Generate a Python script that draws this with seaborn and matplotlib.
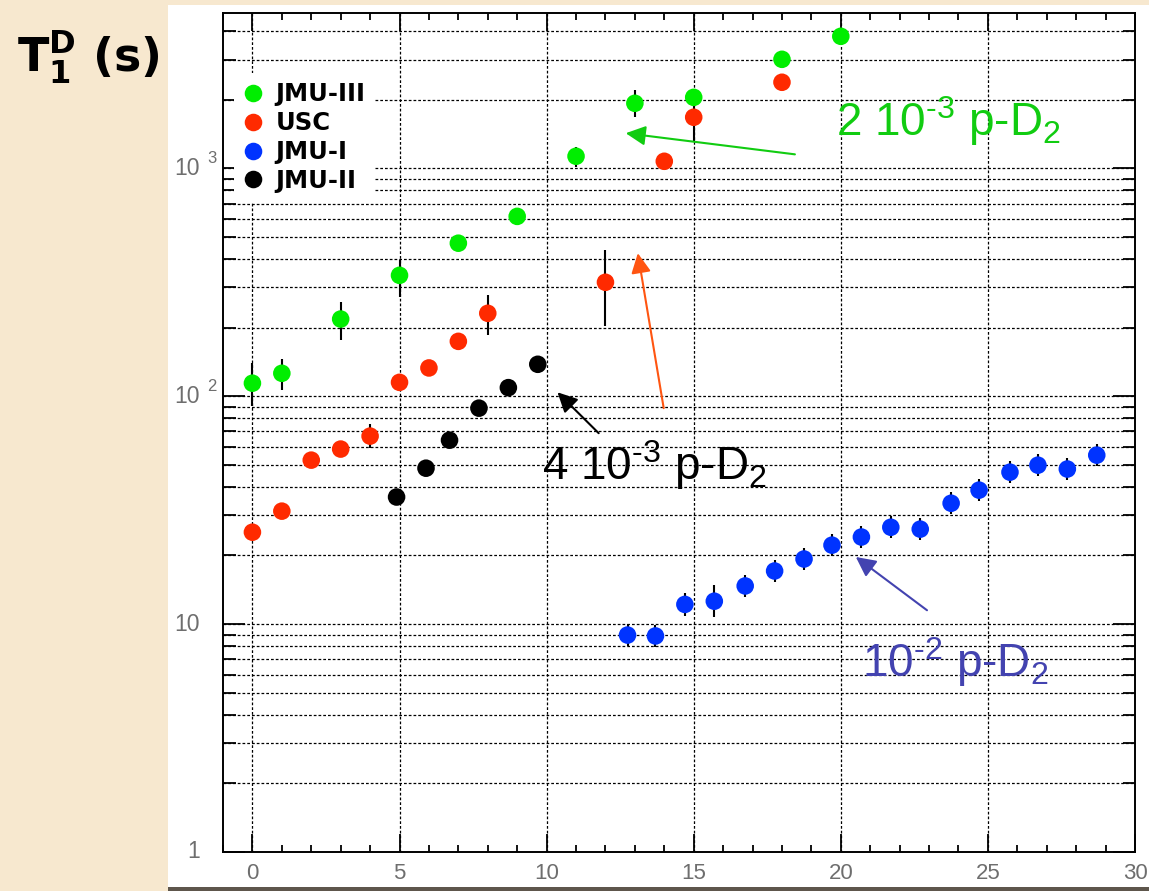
import numpy as np
import pandas as pd
import matplotlib
matplotlib.use("Agg")
import matplotlib.pyplot as plt
import seaborn as sns
from matplotlib.patches import Rectangle
from matplotlib.ticker import FixedLocator, MultipleLocator, LogLocator, NullFormatter

# ---------------- data ----------------
series_names = ["JMU-III", "USC", "JMU-I", "JMU-II"]
series_colors = ["#00ee00", "#ff2a00", "#0033ff", "#000000"]

jmu3_x = [0, 1, 3, 5, 7, 9, 11, 13, 15, 18, 20]
jmu3_y = [114, 126, 218, 339, 469, 615, 1129, 1928, 2047, 3006, 3793]
jmu3_lo = [91, 106, 176, 272, 437, 577, 1009, 1675, 2047, 3006, 3793]
jmu3_hi = [140, 145, 258, 395, 503, 655, 1236, 2198, 2047, 3006, 3793]

usc_x = [0, 1, 2, 3, 4, 5, 6, 7, 8, 12, 14, 15, 18]
usc_y = [25.3, 31.3, 52.4, 58.6, 66.8, 115, 133, 174, 231, 316, 1073, 1674, 2384]
usc_lo = [25.3, 31.3, 52.4, 58.6, 59.2, 115, 133, 174, 185, 203, 1073, 1300, 2384]
usc_hi = [25.3, 31.3, 52.4, 58.6, 75.4, 115, 133, 174, 277, 437, 1073, 2047, 2384]

jmu1_x = [12.75, 13.7, 14.7, 15.7, 16.75, 17.75, 18.75, 19.7, 20.7, 21.7,
          22.7, 23.75, 24.7, 25.75, 26.7, 27.7, 28.7]
jmu1_y = [8.95, 8.87, 12.2, 12.6, 14.7, 17.1, 19.3, 22.2, 24.1, 26.6,
          26.1, 33.9, 38.7, 46.4, 49.8, 47.9, 55.1]
jmu1_lo = [8.0, 7.9, 10.8, 10.7, 13.1, 15.3, 17.3, 19.9, 21.6, 23.8,
           23.3, 30.3, 34.6, 41.5, 44.5, 42.8, 49.3]
jmu1_hi = [10.0, 9.9, 13.7, 14.8, 16.5, 19.1, 21.6, 24.8, 26.9, 29.7,
           29.2, 37.9, 43.3, 51.9, 55.7, 53.6, 61.6]

jmu2_x = [4.9, 5.9, 6.7, 7.7, 8.7, 9.7]
jmu2_y = [36.1, 48.3, 64.1, 88.6, 109, 138]
jmu2_lo = [36.1, 48.3, 59.1, 88.6, 109, 138]
jmu2_hi = [36.1, 48.3, 69.5, 88.6, 109, 138]

xtick_vals = [0, 5, 10, 15, 20, 25, 30]
ytick_vals = [1, 10, 100, 1000]
ytick_base = ["1", "10", "10", "10"]
ytick_exp = ["", "", "2", "3"]

# annotation texts
label_green = r"2 10$^{\text{-}3}$ p-D$_{2}$"
label_black = r"4 10$^{\text{-}3}$ p-D$_{2}$"
label_blue = r"10$^{\text{-}2}$ p-D$_{2}$"

# ---------------- build frame ----------------
frames = []
for name, xs, ys, lo, hi in [("JMU-III", jmu3_x, jmu3_y, jmu3_lo, jmu3_hi),
                             ("USC", usc_x, usc_y, usc_lo, usc_hi),
                             ("JMU-I", jmu1_x, jmu1_y, jmu1_lo, jmu1_hi),
                             ("JMU-II", jmu2_x, jmu2_y, jmu2_lo, jmu2_hi)]:
    frames.append(pd.DataFrame({"x": xs, "y": ys, "lo": lo, "hi": hi, "series": name}))
df = pd.concat(frames, ignore_index=True)

# ---------------- style ----------------
plt.rcParams["font.family"] = ["Liberation Sans", "DejaVu Sans"]
plt.rcParams["mathtext.fontset"] = "custom"
plt.rcParams["mathtext.rm"] = "Liberation Sans"
plt.rcParams["mathtext.it"] = "Liberation Sans:italic"
plt.rcParams["mathtext.bf"] = "DejaVu Sans:bold"

W, H = 1149, 891
fig = plt.figure(figsize=(W / 100, H / 100), dpi=100)
fig.patch.set_facecolor("#f7e8cf")

# white panel + bottom shadow
fig.add_artist(Rectangle((168 / W, 4 / H), (W - 168) / W, (H - 9) / H,
                         transform=fig.transFigure, facecolor="white",
                         edgecolor="none", zorder=-2))
fig.add_artist(Rectangle((168 / W, 0), (W - 168) / W, 4 / H,
                         transform=fig.transFigure, facecolor="#5e564c",
                         edgecolor="none", zorder=-2))

ax = fig.add_axes([223 / W, 1 - 852 / H, (1135 - 223) / W, (852 - 13) / H])
ax.set_facecolor("white")

# error bars (below markers)
ax.errorbar(df["x"], df["y"], yerr=[df["y"] - df["lo"], df["hi"] - df["y"]],
            fmt="none", ecolor="black", elinewidth=1.5, capsize=0, zorder=2)

sns.scatterplot(data=df, x="x", y="y", hue="series", hue_order=series_names,
                palette=series_colors, s=160, edgecolor="none", linewidth=0,
                ax=ax, zorder=3, legend=True)

ax.set_yscale("log")
ax.set_xlim(-1, 30)
ax.set_ylim(1, 4800)
ax.set_xlabel("")
ax.set_ylabel("")

ax.xaxis.set_major_locator(FixedLocator(xtick_vals))
ax.xaxis.set_minor_locator(MultipleLocator(1))
ax.yaxis.set_major_locator(FixedLocator(ytick_vals))
ax.yaxis.set_minor_locator(LogLocator(base=10, subs=np.arange(2, 10)))
ax.yaxis.set_minor_formatter(NullFormatter())

gl = dict(color="black", linewidth=0.9, linestyle=(0, (2.2, 1.6)))
ax.grid(True, which="major", axis="x", **gl)
ax.grid(True, which="both", axis="y", **gl)
ax.set_axisbelow(True)

ax.tick_params(which="both", direction="in", top=True, right=True, width=1.3,
               colors="black")
ax.tick_params(axis="x", which="major", length=13, labelsize=16,
               labelcolor="#6e6e6e", pad=8)
ax.tick_params(axis="x", which="minor", length=5)
ax.tick_params(axis="y", which="major", length=16, labelleft=False)
ax.tick_params(axis="y", which="minor", length=9)
for sp in ax.spines.values():
    sp.set_linewidth(1.4)
    sp.set_color("black")

# y tick labels: base right-aligned, exponent overhanging
for val, base, ex in zip(ytick_vals, ytick_base, ytick_exp):
    ax.annotate(base, xy=(0, val), xycoords=("axes fraction", "data"),
                xytext=(-16.5, 0), textcoords="offset points",
                ha="right", va="center", fontsize=16.5, color="#6e6e6e",
                annotation_clip=False)
    if ex:
        ax.annotate(ex, xy=(0, val), xycoords=("axes fraction", "data"),
                    xytext=(-11.5, 7), textcoords="offset points",
                    ha="left", va="center", fontsize=12, color="#6e6e6e",
                    annotation_clip=False)

# legend
sns.move_legend(ax, "upper left", bbox_to_anchor=(0.012, 0.929), title=None,
                frameon=True, prop=dict(family="DejaVu Sans", weight="bold", size=17.5),
                handletextpad=0.5, labelspacing=0.2, handlelength=0.8,
                borderaxespad=0, borderpad=0.4)
leg = ax.get_legend()
leg.get_frame().set_facecolor("white")
leg.get_frame().set_edgecolor("none")
leg.get_frame().set_alpha(1)

# annotations
ax.text(19.83, 1381, label_green, color="#11cc11", fontsize=33, va="baseline", ha="left", zorder=6)
ax.text(9.83, 42.8, label_black, color="black", fontsize=33, va="baseline", ha="left", zorder=6)
ax.text(20.71, 5.86, label_blue, color="#4343b0", fontsize=33, va="baseline", ha="left", zorder=6)

arr = dict(arrowstyle="-|>", mutation_scale=30, shrinkA=0, shrinkB=0)
ax.annotate("", xy=(12.69, 1425), xytext=(18.44, 1151),
            arrowprops=dict(color="#11cc11", lw=1.5, **arr), zorder=6)
ax.annotate("", xy=(13.1, 424), xytext=(13.98, 88.6),
            arrowprops=dict(color="#ff5511", lw=1.5, **arr), zorder=6)
ax.annotate("", xy=(10.37, 104), xytext=(11.77, 68.8),
            arrowprops=dict(color="black", lw=1.5, **arr), zorder=6)
ax.annotate("", xy=(20.51, 19.7), xytext=(22.93, 11.5),
            arrowprops=dict(color="#4343b0", lw=1.5, **arr), zorder=6)

# y-axis title
fig.text(17 / W, 1 - 72 / H, r"T$_{\mathbf{1}}^{\mathbf{D}}$ (s)",
         fontsize=33, fontweight="bold", family="DejaVu Sans",
         color="black", ha="left", va="baseline")

fig.savefig("out.png", dpi=100, facecolor=fig.get_facecolor())
